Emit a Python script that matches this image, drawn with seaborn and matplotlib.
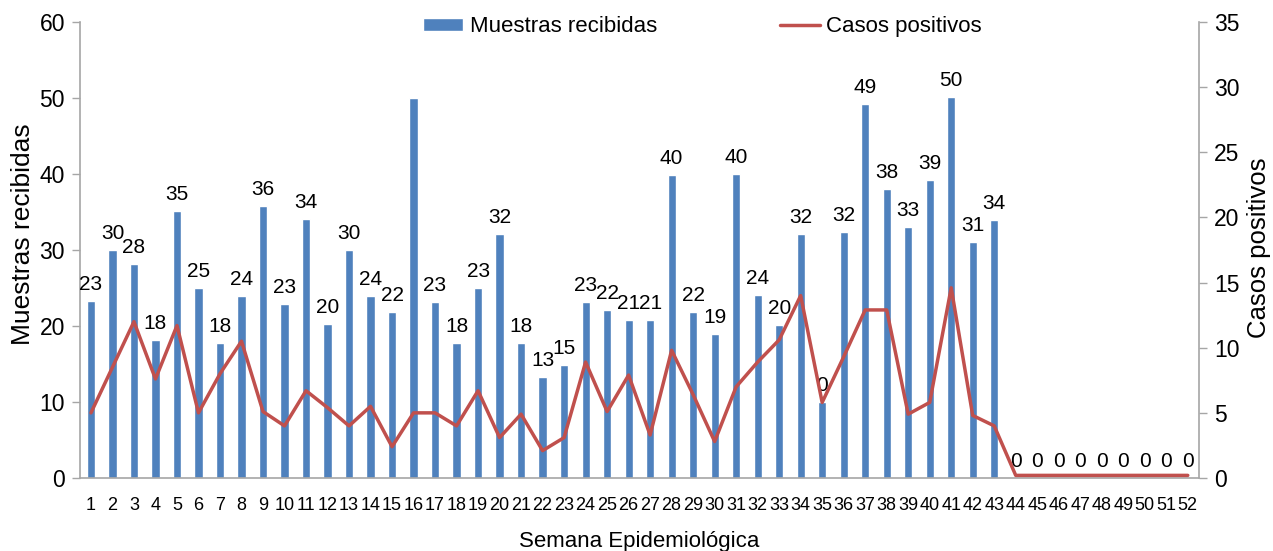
import matplotlib
matplotlib.use("Agg")
import matplotlib.pyplot as plt
import numpy as np
import pandas as pd
import seaborn as sns

# Datos
semanas = [str(i) for i in range(1, 53)]
muestras = [23.3, 30, 28.2, 18.2, 35.2, 25, 17.8, 24, 35.8, 22.9,
            34.1, 20.3, 30, 24, 21.9, 50, 23.2, 17.8, 25, 32.1,
            17.8, 13.3, 14.9, 23.2, 22.1, 20.8, 20.8, 39.9, 21.9, 18.9,
            40, 24.1, 20.1, 32.1, 10, 32.4, 49.2, 38, 33, 39.2,
            50.1, 31, 34, 0, 0, 0, 0, 0, 0, 0, 0, 0]
etiquetas = ["23", "30", "28", "18", "35", "25", "18", "24", "36", "23",
             "34", "20", "30", "24", "22", "", "23", "18", "23", "32",
             "18", "13", "15", "23", "22", "21", "21", "40", "22", "19",
             "40", "24", "20", "32", "0", "32", "49", "38", "33", "39",
             "50", "31", "34", "0", "0", "0", "0", "0", "0", "0", "0", "0"]
casos = [5, 8.5, 12, 7.6, 11.7, 5, 8, 10.5, 5.1, 4,
         6.7, 5.4, 4, 5.5, 2.4, 5, 5, 4, 6.7, 3.1,
         4.9, 2.1, 3.1, 8.9, 5.1, 7.9, 3.3, 9.8, 6.4, 2.8,
         7, 8.9, 10.6, 14, 5.8, 9.3, 12.9, 12.9, 4.9, 5.8,
         14.6, 4.8, 4, 0.2, 0.2, 0.2, 0.2, 0.2, 0.2, 0.2, 0.2, 0.2]

df = pd.DataFrame({"semana": semanas, "muestras": muestras, "casos": casos})

sns.set_style("white")
plt.rcParams["font.family"] = ["Liberation Sans", "DejaVu Sans"]
plt.rcParams["text.color"] = "black"
plt.rcParams["axes.labelcolor"] = "black"
plt.rcParams["xtick.color"] = "black"
plt.rcParams["ytick.color"] = "black"

azul = "#4F81BD"
rojo = "#C0504D"
gris = "#A6A6A6"

fig = plt.figure(figsize=(12.73, 5.51), dpi=100)
ax = fig.add_axes([0.063, 0.1325, 0.8785, 0.8275])

sns.barplot(data=df, x="semana", y="muestras", color=azul, width=0.38,
            saturation=1, ax=ax, label="Muestras recibidas")
ax.bar_label(ax.containers[0], labels=etiquetas, padding=5, fontsize=15)

ax2 = ax.twinx()
sns.pointplot(data=df, x="semana", y="casos", color=rojo, markers="",
              linestyles="-", errorbar=None, ax=ax2, linewidth=2.5,
              label="Casos positivos")

ax.set_xlim(-0.5, 51.5)
ax.set_ylim(0, 60)
ax.set_yticks(range(0, 61, 10))
ax2.set_ylim(0, 35)
ax2.set_yticks(range(0, 36, 5))

# marcas del eje x entre categorias, como en Excel
ax.set_xticks(np.arange(-0.5, 52, 1), minor=True)
ax.tick_params(axis="x", which="major", length=0, pad=14, labelsize=13)
ax.tick_params(axis="x", which="minor", length=6, color=gris, width=1)

ax.tick_params(axis="y", length=6, color=gris, width=1, labelsize=16.5, pad=5)
ax2.tick_params(axis="y", length=6, color=gris, width=1, labelsize=16.5, pad=5)

for a in (ax, ax2):
    a.spines["top"].set_visible(False)
    for s in ("left", "right", "bottom"):
        a.spines[s].set_color(gris)
        a.spines[s].set_linewidth(1.2)
ax.spines["right"].set_visible(False)
ax2.spines["left"].set_visible(False)
ax2.spines["bottom"].set_visible(False)

ax.set_xlabel("Semana Epidemiológica", fontsize=16, labelpad=12)
ax.set_ylabel("Muestras recibidas", fontsize=19)
ax2.set_ylabel("Casos positivos", fontsize=18.5)
ax.yaxis.set_label_coords(-0.04, 0.535)
ax2.yaxis.set_label_coords(1.043, 0.505)

for a in (ax, ax2):
    if a.get_legend() is not None:
        a.get_legend().remove()

h1, l1 = ax.get_legend_handles_labels()
h2, l2 = ax2.get_legend_handles_labels()
fig.legend(h1[:1] + h2[:1], ["Muestras recibidas", "Casos positivos"],
           loc="center", bbox_to_anchor=(0.552, 0.951), ncol=2, frameon=False,
           fontsize=16, handlelength=1.8, handleheight=0.5, handletextpad=0.3,
           columnspacing=5.5)

fig.savefig("out.png", dpi=100)
